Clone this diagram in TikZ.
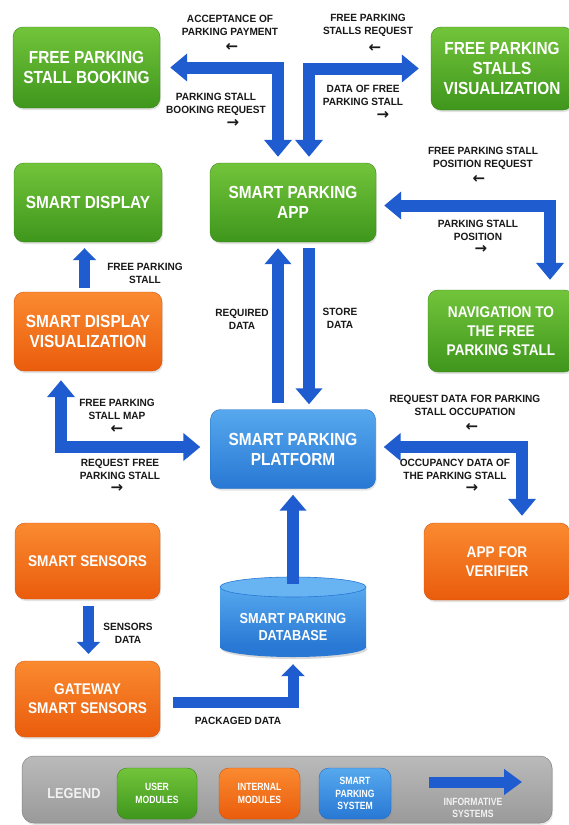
\documentclass[tikz,border=0pt]{standalone}
\usepackage{fontspec}
\setmainfont{Liberation Sans}
\newfontfamily\boxfont{Liberation Sans}[FakeStretch=0.88]
\newfontfamily\legfont{Liberation Sans}[FakeStretch=0.82]
\newfontfamily\lblfont{Liberation Sans}[FakeStretch=0.96]
\newfontfamily\arrfont{DejaVu Sans}
\usetikzlibrary{arrows.meta,shadows}
\definecolor{gtop}{RGB}{114,196,58}
\definecolor{gbot}{RGB}{62,150,28}
\definecolor{otop}{RGB}{250,138,48}
\definecolor{obot}{RGB}{234,92,12}
\definecolor{btop}{RGB}{86,168,238}
\definecolor{bbot}{RGB}{40,120,212}
\definecolor{dbtopc}{RGB}{104,180,242}
\definecolor{arrblue}{RGB}{30,92,208}
\definecolor{lgtop}{RGB}{186,186,186}
\definecolor{lgbot}{RGB}{154,154,154}
\definecolor{lblc}{RGB}{25,25,25}
\definecolor{lgtext}{RGB}{242,242,242}
\begin{document}
\begin{tikzpicture}[x=1pt,y=-1pt,
  box/.style={rounded corners=10pt, text=white, align=center, inner sep=0pt,
    font=\boxfont\bfseries\fontsize{17.5}{20}\selectfont,
    drop shadow={opacity=0.22,shadow xshift=1pt,shadow yshift=-2pt}},
  smalltext/.style={font=\boxfont\bfseries\fontsize{15.5}{19}\selectfont},
  gbox/.style={box, top color=gtop, bottom color=gbot, draw=gbot!90!black, line width=0.4pt},
  obox/.style={box, top color=otop, bottom color=obot, draw=obot!90!black, line width=0.4pt},
  bbox/.style={box, top color=btop, bottom color=bbot, draw=bbot!90!black, line width=0.4pt},
  lbl/.style={text=lblc, align=center, inner sep=0pt, anchor=north,
    font=\lblfont\bfseries\fontsize{10.5}{13}\selectfont},
  sym/.style={text=lblc, inner sep=0pt, font=\arrfont\bfseries\fontsize{15}{15}\selectfont},
  arr/.style={draw=arrblue, line width=12pt, -{Triangle[width=26pt,length=16pt]}},
  sarr/.style={draw=arrblue, line width=11pt, -{Triangle[width=23pt,length=12pt]}},
  darr/.style={draw=arrblue, line width=12pt, {Triangle[width=27pt,length=17pt]}-{Triangle[width=27pt,length=17pt]}},
  legtext/.style={font=\legfont\bfseries\fontsize{10.5}{12.5}\selectfont}
]
\useasboundingbox (0,0) rectangle (568,825);
\fill[white] (0,0) rectangle (568,825);

% ---------- boxes ----------
\node[gbox, minimum width=147pt, minimum height=81pt] (book) at (86.5,67.5) {FREE PARKING\\STALL BOOKING};
\node[gbox, minimum width=142pt, minimum height=83pt] (vis) at (502,68.5) {FREE PARKING\\STALLS\\VISUALIZATION};
\node[gbox, minimum width=148pt, minimum height=79pt] (disp) at (88,202.5) {SMART DISPLAY};
\node[gbox, minimum width=166pt, minimum height=79pt] (app) at (293,202.5) {SMART PARKING\\APP};
\node[obox, minimum width=148pt, minimum height=79pt] (sdv) at (88,331.5) {SMART DISPLAY\\VISUALIZATION};
\node[gbox, smalltext, minimum width=146pt, minimum height=82pt] (nav) at (501,331) {NAVIGATION TO\\THE FREE\\PARKING STALL};
\node[bbox, minimum width=165pt, minimum height=79pt] (plat) at (293,449) {SMART PARKING\\PLATFORM};
\node[obox, smalltext, minimum width=145pt, minimum height=76pt] (sens) at (87.5,561) {SMART SENSORS};
\node[obox, smalltext, minimum width=146pt, minimum height=77pt] (verif) at (497,561.5) {APP FOR\\VERIFIER};
\node[obox, smalltext, minimum width=145pt, minimum height=76pt] (gate) at (87.5,699) {GATEWAY\\SMART SENSORS};

% ---------- database cylinder ----------
\fill[black, opacity=0.15] (294.5,649) ellipse [x radius=73pt, y radius=10pt];
\fill[bbot] (293,647) ellipse [x radius=73pt, y radius=10pt];
\shade[top color=btop, bottom color=bbot] (220,587) rectangle (366,647);
\fill[dbtopc] (293,587) ellipse [x radius=73pt, y radius=10pt];
\draw[bbot, line width=0.6pt] (293,587) ellipse [x radius=73pt, y radius=10pt];
\node[inner sep=0pt, minimum width=146pt, minimum height=80pt] (db) at (293,617) {};
\node[text=white, align=center, inner sep=0pt,
  font=\boxfont\bfseries\fontsize{14.5}{17}\selectfont] (dbtext) at (293,627) {SMART PARKING\\DATABASE};

% ---------- connectors ----------
\draw[darr, shorten <=10pt, shorten >=6pt] (book.east) -| ([xshift=-15pt]app.north);
\draw[darr, shorten <=12pt, shorten >=6pt] (vis.west) -| ([xshift=16pt]app.north);
\draw[darr, shorten <=8pt, shorten >=10pt] ([yshift=-3pt]app.east) -| ([xshift=49pt]nav.north);
\draw[arr, shorten <=6pt, shorten >=6pt] ([xshift=-15pt]plat.north) -- ([xshift=-15pt]app.south);
\draw[arr, shorten <=6pt, shorten >=5pt] ([xshift=16pt]app.south) -- ([xshift=16pt]plat.north);
\draw[sarr, shorten <=4pt, shorten >=6pt] ([xshift=-3.5pt]sdv.north) -- ([xshift=-3.5pt]disp.south);
\draw[darr, shorten <=10pt, shorten >=9pt] ([yshift=2pt]plat.west) -| ([xshift=-27pt]sdv.south);
\draw[darr, shorten <=8pt, shorten >=7pt] ([yshift=2pt]plat.east) -| ([xshift=25pt]verif.north);
\draw[arr, shorten <=-7pt, shorten >=6pt] (db.north) -- (plat.south);
\draw[sarr, shorten <=7pt, shorten >=7pt] ([xshift=1pt]sens.south) -- ([xshift=1pt]gate.north);
\draw[sarr, shorten <=13pt, shorten >=7pt] ([yshift=-3.5pt]gate.east) -| (db.south);

% ---------- labels ----------
\node[lbl] (l1) at (230,15) {ACCEPTANCE OF\\PARKING PAYMENT};
\node[sym] (s1) at (232,47.5) {←};
\node[lbl] (l2) at (216,93) {PARKING STALL\\BOOKING REQUEST};
\node[sym] (s2) at (233,123) {→};
\node[lbl] (l3) at (368,14) {FREE PARKING\\STALLS REQUEST};
\node[sym] (s3) at (375,48) {←};
\node[lbl] (l4) at (363,85) {DATA OF FREE\\PARKING STALL};
\node[sym] (s4) at (383,115) {→};
\node[lbl] (l5) at (483,147) {FREE PARKING STALL\\POSITION REQUEST};
\node[sym] (s5) at (479,179) {←};
\node[lbl] (l6) at (478,220) {PARKING STALL\\POSITION};
\node[sym] (s6) at (481,249) {→};
\node[lbl] (l7) at (145,263) {FREE PARKING\\STALL};
\node[lbl] (l8) at (242,309) {REQUIRED\\DATA};
\node[lbl] (l9) at (340,308) {STORE\\DATA};
\node[lbl] (l10) at (117,399) {FREE PARKING\\STALL MAP};
\node[sym] (s10) at (117,429) {←};
\node[lbl] (l11) at (120,459) {REQUEST FREE\\PARKING STALL};
\node[sym] (s11) at (117,488) {→};
\node[lbl] (l12) at (465,395) {REQUEST DATA FOR PARKING\\STALL OCCUPATION};
\node[sym] (s12) at (472,427) {←};
\node[lbl] (l13) at (455,459) {OCCUPANCY DATA OF\\THE PARKING STALL};
\node[sym] (s13) at (472,488) {→};
\node[lbl] (l14) at (128,623) {SENSORS\\DATA};
\node[lbl] (l15) at (238,717) {PACKAGED DATA};

% ---------- legend ----------
\node[rounded corners=12pt, top color=lgtop, bottom color=lgbot, draw=lgbot!85!black, line width=0.5pt,
  minimum width=530pt, minimum height=67pt, inner sep=0pt,
  drop shadow={opacity=0.2,shadow xshift=1pt,shadow yshift=-2pt}] (legend) at (287,789.5) {};
\node[text=lgtext, inner sep=0pt, font=\boxfont\bfseries\fontsize{14.5}{16}\selectfont] (legtitle) at (74,793) {LEGEND};
\node[gbox, legtext, minimum width=80pt, minimum height=51pt] (lg1) at (157,793.5) {USER\\MODULES};
\node[obox, legtext, minimum width=81pt, minimum height=51pt] (lg2) at (259.5,793.5) {INTERNAL\\MODULES};
\node[bbox, legtext, minimum width=72pt, minimum height=51pt] (lg3) at (355,793.5) {SMART\\PARKING\\SYSTEM};
\draw[draw=arrblue, line width=11pt, -{Triangle[width=25pt,length=18pt]}] (429,782) -- (522,782);
\node[text=lgtext, align=center, inner sep=0pt, font=\legfont\bfseries\fontsize{10.5}{12}\selectfont] (lg4) at (473,808) {INFORMATIVE\\SYSTEMS};
\end{tikzpicture}
\end{document}
